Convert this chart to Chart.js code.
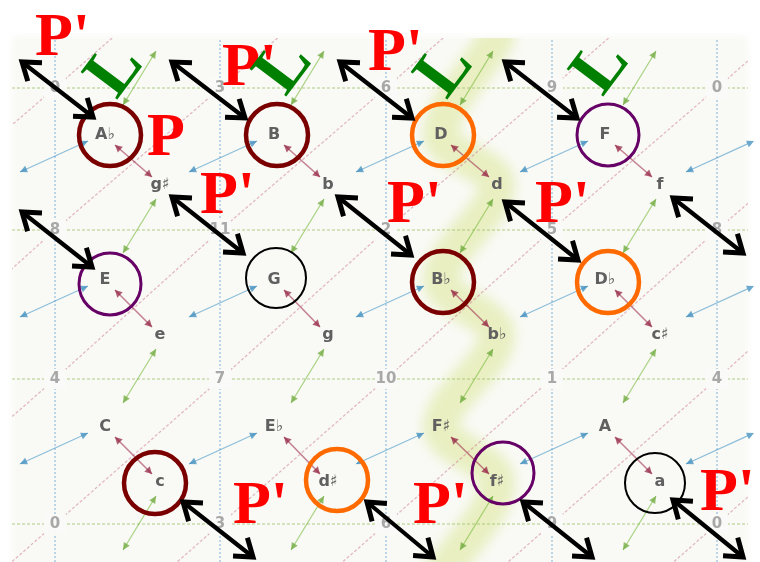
<!DOCTYPE html>
<html>
<head>
<meta charset="utf-8">
<script src="https://cdn.jsdelivr.net/npm/chart.js@4.4.1/dist/chart.umd.min.js"></script>
<style>
  html, body { margin: 0; padding: 0; background: #fff; }
  #wrap { width: 760px; height: 562px; position: relative; }
</style>
</head>
<body>
<div id="wrap"><canvas id="tonnetz"></canvas></div>
<script>
// lattice (units = the 760x562 picture)
const gridCols = [55, 220, 386, 552, 717];
const gridRows = [88, 230, 379, 524];
const gridNumbers = [
  ['0', '3', '6', '9', '0'],
  ['8', '11', '2', '5', '8'],
  ['4', '7', '10', '1', '4'],
  ['0', '3', '6', '9', '0']
];
const majorNames = [['A\u266d', 'B', 'D', 'F'], ['E', 'G', 'B\u266d', 'D\u266d'], ['C', 'E\u266d', 'F\u266f', 'A']];
const minorNames = [['g\u266f', 'b', 'd', 'f'], ['e', 'g', 'b\u266d', 'c\u266f'], ['c', 'd\u266f', 'f\u266f', 'a']];
const majorX = [105, 274, 441, 605];
const majorY = [135, 280, 427];
const minorX = [160, 328, 497, 660];
const minorY = [185, 335, 482];
const colStep = 166;
const rowStep = 148;

// highlighted path: D - d - Bb - bb - F# - f#
const bandX = [497, 441, 497, 441, 497, 441, 497, 441];
const bandY = [37, 135, 185, 280, 335, 427, 482, 575];

// circled chords
const circleX = [110, 277, 443, 608, 110, 276, 443, 608, 155, 337, 503, 655];
const circleY = [135, 135, 135, 135, 284, 278, 282, 282, 483, 480, 473, 483];
const circleColor = ['#7a0000', '#7a0000', '#ff6a00', '#660066', '#660066', '#000000',
                     '#7a0000', '#ff6a00', '#7a0000', '#ff6a00', '#660066', '#000000'];

// black double arrows
const arrowX1 = [22, 172, 340, 505, 22, 172, 338, 505, 673, 183, 367, 523, 673];
const arrowY1 = [62, 62, 62, 62, 212, 197, 197, 202, 198, 502, 502, 502, 500];
const arrowX2 = [93, 245, 412, 577, 92, 243, 411, 578, 743, 253, 433, 592, 743];
const arrowY2 = [117, 118, 118, 118, 267, 253, 255, 260, 253, 557, 557, 557, 557];

// big annotations
const redText = ["P'", "P'", "P'", 'P', "P'", "P'", "P'", "P'", "P'", "P'"];
const redX = [35, 222, 368, 147, 200, 387, 535, 233, 413, 700];
const redY = [55, 85, 70, 155, 213, 222, 222, 523, 523, 510];
const greenText = ['L', 'L', 'L', 'L'];
const greenX = [112, 281, 442, 598];
const greenY = [68, 65, 68, 65];

const GAP = {x: null, y: null};
const PAPER_CLIP = {left: -12, top: -38, right: -12, bottom: 0};

function segData(list) {
  const out = [];
  list.forEach(s => out.push({x: s[0], y: s[1]}, {x: s[2], y: s[3]}, GAP));
  return out;
}

// grid lines
const vLines = segData(gridCols.map(x => [x, 40, x, 562]));
const hLines = segData(gridRows.map(y => [12, y, 748, y]));

// pink diagonals through the grid crossings
const gx = i => 55 + 165.5 * i;
const gy = j => j < 0 ? gridRows[0] - 145 * (-j) : (j > 3 ? gridRows[3] + 145 * (j - 3) : gridRows[j]);
const diagList = [];
for (let i = -1; i <= 5; i++) {
  for (let j = -1; j <= 4; j++) {
    const x1 = gx(i), y1 = gy(j), x2 = gx(i + 1), y2 = gy(j - 1);
    const len = Math.hypot(x2 - x1, y2 - y1), k = 13 / len;
    diagList.push([x1 + (x2 - x1) * k, y1 + (y2 - y1) * k, x2 - (x2 - x1) * k, y2 - (y2 - y1) * k]);
  }
}

// relation arrows of the tonnetz
const blueList = [], greenList = [], redList = [];
for (let r = 0; r < 3; r++) {
  for (let c = 0; c <= 4; c++) {
    const mx = majorX[Math.min(c, 3)] + (c > 3 ? colStep : 0);
    const my = majorY[r];
    blueList.push([mx - 17, my + 6, mx - 85, my + 37]);
  }
  for (let c = 0; c < 4; c++) {
    redList.push([majorX[c] + 10, majorY[r] + 10, minorX[c] - 8, minorY[r] - 8]);
  }
}
for (let r = -1; r < 3; r++) {
  for (let c = 0; c < 4; c++) {
    const nx = minorX[c], ny = r < 0 ? minorY[0] - rowStep : minorY[r];
    greenList.push([nx - 4, ny + 14, nx - 37, ny + 68]);
  }
}

function drawHead(ctx, tx, ty, fx, fy, h) {
  const a = Math.atan2(ty - fy, tx - fx);
  ctx.beginPath();
  ctx.moveTo(tx - h.len * Math.cos(a - h.spread), ty - h.len * Math.sin(a - h.spread));
  ctx.lineTo(tx, ty);
  ctx.lineTo(tx - h.len * Math.cos(a + h.spread), ty - h.len * Math.sin(a + h.spread));
  if (h.filled) {
    ctx.closePath();
    ctx.fillStyle = h.color;
    ctx.fill();
  } else {
    ctx.strokeStyle = h.color;
    ctx.lineWidth = h.width;
    ctx.lineCap = 'butt';
    ctx.lineJoin = 'miter';
    ctx.stroke();
  }
}

function drawNumbers(chart) {
  const {ctx, scales: {x, y}} = chart;
  ctx.filter = 'blur(0.6px)';
  ctx.font = 'bold 15px "DejaVu Sans", sans-serif';
  ctx.textAlign = 'center';
  ctx.textBaseline = 'middle';
  gridRows.forEach((row, j) => {
    gridCols.forEach((col, i) => {
      const px = x.getPixelForValue(col), py = y.getPixelForValue(row);
      ctx.fillStyle = 'rgba(250,250,248,0.95)';
      ctx.fillRect(px - 11, py - 10, 22, 20);
      ctx.fillStyle = '#a8a8a8';
      ctx.fillText(gridNumbers[j][i], px, py);
    });
  });
}

function drawChords(chart) {
  const {ctx, scales: {x, y}} = chart;
  ctx.filter = 'blur(0.6px)';
  ctx.font = 'bold 16px "DejaVu Sans", sans-serif';
  ctx.textAlign = 'center';
  ctx.textBaseline = 'middle';
  ctx.fillStyle = '#606060';
  for (let r = 0; r < 3; r++) {
    for (let c = 0; c < 4; c++) {
      ctx.fillText(majorNames[r][c], x.getPixelForValue(majorX[c]), y.getPixelForValue(majorY[r]));
      ctx.fillText(minorNames[r][c], x.getPixelForValue(minorX[c]), y.getPixelForValue(minorY[r]));
    }
  }
}

const tonnetzPlugin = {
  id: 'tonnetz',
  beforeDraw(chart) {
    const {ctx, scales: {x, y}} = chart;
    ctx.save();
    ctx.fillStyle = '#ffffff';
    ctx.fillRect(0, 0, chart.width, chart.height);
    ctx.filter = 'blur(3px)';
    ctx.fillStyle = '#f9faf5';
    const l = x.getPixelForValue(12), t = y.getPixelForValue(36);
    ctx.fillRect(l, t, x.getPixelForValue(748) - l, chart.height - t + 10);
    ctx.restore();
  },
  beforeDatasetDraw(chart, args) {
    const ds = chart.data.datasets[args.index];
    chart.ctx.save();
    if (ds.blur) chart.ctx.filter = 'blur(' + ds.blur + 'px)';
  },
  afterDatasetDraw(chart, args) {
    const ds = chart.data.datasets[args.index];
    const ctx = chart.ctx;
    if (ds.heads) {
      const pts = args.meta.data;
      for (let k = 0; k + 1 < pts.length; k += 3) {
        const a = pts[k], b = pts[k + 1];
        drawHead(ctx, b.x, b.y, a.x, a.y, ds.heads);
        drawHead(ctx, a.x, a.y, b.x, b.y, ds.heads);
      }
    }
    if (ds.textLayer === 'numbers') drawNumbers(chart);
    if (ds.textLayer === 'chords') drawChords(chart);
    ctx.restore();
  },
  afterDatasetsDraw(chart) {
    const {ctx, scales: {x, y}} = chart;
    ctx.save();
    ctx.font = 'bold 62px "Liberation Serif", "Times New Roman", serif';
    ctx.textAlign = 'left';
    ctx.textBaseline = 'alphabetic';
    ctx.fillStyle = '#ff0000';
    redText.forEach((t, i) => ctx.fillText(t, x.getPixelForValue(redX[i]), y.getPixelForValue(redY[i])));
    ctx.font = 'bold 70px "Liberation Serif", "Times New Roman", serif';
    ctx.textAlign = 'center';
    ctx.textBaseline = 'middle';
    ctx.fillStyle = '#008000';
    greenText.forEach((t, i) => {
      ctx.save();
      ctx.translate(x.getPixelForValue(greenX[i]), y.getPixelForValue(greenY[i]));
      ctx.rotate(-53 * Math.PI / 180);
      ctx.fillText(t, 0, 5);
      ctx.restore();
    });
    ctx.restore();
  }
};

const lineSet = (data, color, width, extra) => Object.assign({
  data: data,
  showLine: true,
  borderColor: color,
  borderWidth: width,
  pointRadius: 0,
  pointHoverRadius: 0,
  spanGaps: false,
  tension: 0
}, extra);

const ctx = document.getElementById('tonnetz').getContext('2d');

const tonnetzChart = new Chart(ctx, {
  type: 'scatter',
  data: {
    datasets: [
      lineSet(bandX.map((v, i) => ({x: v, y: bandY[i]})), 'rgba(212,226,130,0.45)', 36,
        {order: 10, blur: 6, tension: 0.35, borderJoinStyle: 'round', borderCapStyle: 'round', clip: PAPER_CLIP}),
      lineSet(segData(diagList), 'rgba(205,120,150,0.5)', 1.3,
        {order: 9, blur: 0.4, borderDash: [3, 2], clip: PAPER_CLIP}),
      lineSet(vLines, 'rgba(110,170,215,0.55)', 1.6, {order: 8, blur: 0.4, borderDash: [2, 2]}),
      lineSet(hLines, 'rgba(160,195,110,0.55)', 1.6, {order: 7, blur: 0.4, borderDash: [3, 2], textLayer: 'numbers'}),
      lineSet(segData(blueList), 'rgba(70,150,200,0.6)', 1.3,
        {order: 6, blur: 0.5, clip: PAPER_CLIP, heads: {len: 8, spread: 0.45, filled: true, color: 'rgba(60,140,190,0.75)'}}),
      lineSet(segData(greenList), 'rgba(120,185,60,0.6)', 1.3,
        {order: 5, blur: 0.5, clip: PAPER_CLIP, heads: {len: 8, spread: 0.45, filled: true, color: 'rgba(110,170,60,0.75)'}}),
      lineSet(segData(redList), 'rgba(160,50,80,0.6)', 1.6,
        {order: 4, blur: 0.5, heads: {len: 8, spread: 0.5, filled: true, color: 'rgba(150,40,70,0.75)'}, textLayer: 'chords'}),
      {
        data: circleX.map((v, i) => ({x: v, y: circleY[i]})),
        order: 3,
        showLine: false,
        pointRadius: circleColor.map(c => c === '#000000' ? 30 : 31),
        pointHoverRadius: circleColor.map(c => c === '#000000' ? 30 : 31),
        pointBackgroundColor: 'rgba(0,0,0,0)',
        pointBorderColor: circleColor,
        pointBorderWidth: circleColor.map(c => c === '#000000' ? 2 : (c === '#660066' ? 3 : 4.5))
      },
      lineSet(segData(arrowX1.map((v, i) => [v, arrowY1[i], arrowX2[i], arrowY2[i]])), '#000000', 4.2,
        {order: 2, heads: {len: 20, spread: 0.62, filled: false, width: 5, color: '#000000'}})
    ]
  },
  options: {
    responsive: true,
    maintainAspectRatio: false,
    animation: false,
    layout: { padding: 0, autoPadding: false },
    plugins: {
      legend: { display: false },
      tooltip: { enabled: false }
    },
    events: [],
    scales: {
      x: { type: 'linear', min: 0, max: 760, display: false },
      y: { type: 'linear', min: 0, max: 562, reverse: true, display: false }
    }
  },
  plugins: [tonnetzPlugin]
});
</script>
</body>
</html>
